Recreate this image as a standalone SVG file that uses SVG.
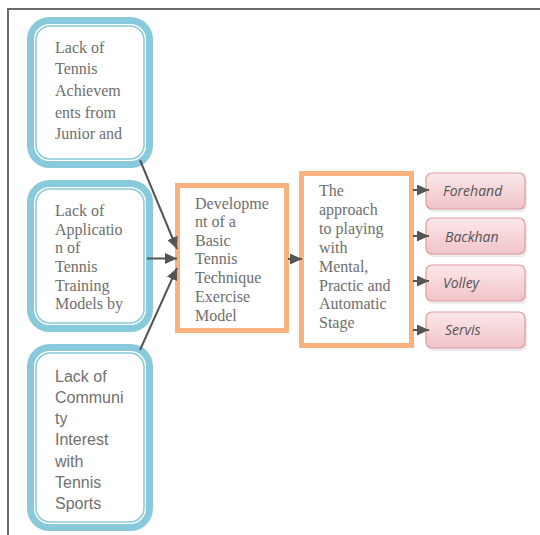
<svg xmlns="http://www.w3.org/2000/svg" width="540" height="535" viewBox="0 0 540 535">
<defs>
<linearGradient id="pink" x1="0" y1="0" x2="0" y2="1">
<stop offset="0" stop-color="#fbe8ea"/>
<stop offset="1" stop-color="#f1c3c8"/>
</linearGradient>
<marker id="arr" markerUnits="userSpaceOnUse" markerWidth="13" markerHeight="11" refX="12" refY="5.5" orient="auto">
<path d="M0,0 L12,5.5 L0,11 z" fill="#555"/>
</marker>
</defs>
<style>
.frame{stroke:#6b6b6b;stroke-width:2;fill:none}
.bo{fill:#fff;stroke:#88c9db;stroke-width:7}
.bi{fill:none;stroke:#88c9db;stroke-width:1.5}
.ob{fill:#fff;stroke:#f9b27d;stroke-width:5}
.pk{fill:url(#pink);stroke:#dc9ca2;stroke-width:1.2}
.sh{fill:#d8d8d8;opacity:0.5}
.serif{font-family:"Liberation Serif","Times New Roman",serif;font-size:16px;fill:#6e6e6e}
.sans{font-family:"Liberation Sans",Arial,sans-serif;font-size:16px;fill:#707070}
.it{font-family:"Open Sans","Liberation Sans",sans-serif;font-style:italic;font-size:14px;fill:#555}
.con{stroke:#555;stroke-width:2;fill:none;marker-end:url(#arr)}
</style>
<path class="frame" d="M8,535 L8,9 L540,9"/>

<g id="box1">
<rect class="bo" x="30.5" y="20.5" width="119" height="144" rx="19"/>
<rect class="bi" x="36" y="26" width="108" height="133" rx="14"/>
<text class="serif"><tspan x="55" y="53">Lack of</tspan><tspan x="55" y="74">Tennis</tspan><tspan x="55" y="96">Achievem</tspan><tspan x="55" y="117.5">ents from</tspan><tspan x="55" y="138.5">Junior and</tspan></text>
</g>
<g id="box2">
<rect class="bo" x="30.5" y="183.5" width="119" height="145" rx="19"/>
<rect class="bi" x="36" y="189" width="108" height="134" rx="14"/>
<text class="serif"><tspan x="55" y="216">Lack of</tspan><tspan x="55" y="234.5">Applicatio</tspan><tspan x="55" y="253">n of</tspan><tspan x="55" y="272">Tennis</tspan><tspan x="55" y="290.5">Training</tspan><tspan x="55" y="308.5">Models by</tspan></text>
</g>
<g id="box3">
<rect class="bo" x="30.5" y="347.5" width="119" height="180" rx="19"/>
<rect class="bi" x="36" y="353" width="108" height="169" rx="14"/>
<text class="sans"><tspan x="55" y="382">Lack of</tspan><tspan x="55" y="403">Communi</tspan><tspan x="55" y="424">ty</tspan><tspan x="55" y="445">Interest</tspan><tspan x="55" y="467">with</tspan><tspan x="55" y="488">Tennis</tspan><tspan x="55" y="509">Sports</tspan></text>
</g>

<g id="dev">
<rect class="ob" x="177.5" y="185.5" width="109" height="145"/>
<text class="serif"><tspan x="195" y="208.5">Developme</tspan><tspan x="195" y="227">nt of a</tspan><tspan x="195" y="245.5">Basic</tspan><tspan x="195" y="264">Tennis</tspan><tspan x="195" y="283">Technique</tspan><tspan x="195" y="302">Exercise</tspan><tspan x="195" y="320.5">Model</tspan></text>
</g>
<g id="approach">
<rect class="ob" x="301.5" y="173.5" width="110" height="172"/>
<text class="serif"><tspan x="319" y="196">The</tspan><tspan x="319" y="215">approach</tspan><tspan x="319" y="234">to playing</tspan><tspan x="319" y="252.5">with</tspan><tspan x="319" y="271.5">Mental,</tspan><tspan x="319" y="290.5">Practic and</tspan><tspan x="319" y="309">Automatic</tspan><tspan x="319" y="327.5">Stage</tspan></text>
</g>

<g id="forehand">
<rect class="sh" x="427" y="175" width="100" height="37" rx="6"/>
<rect class="pk" x="426" y="173" width="99" height="36" rx="6"/>
<text class="it" x="443" y="196">Forehand</text>
</g>
<g id="backhan">
<rect class="sh" x="427" y="220" width="100" height="37" rx="6"/>
<rect class="pk" x="426" y="218" width="99" height="36" rx="6"/>
<text class="it" x="445" y="242">Backhan</text>
</g>
<g id="volley">
<rect class="sh" x="427" y="267" width="100" height="37" rx="6"/>
<rect class="pk" x="426" y="265" width="99" height="36" rx="6"/>
<text class="it" x="443" y="288">Volley</text>
</g>
<g id="servis">
<rect class="sh" x="427" y="314" width="100" height="37" rx="6"/>
<rect class="pk" x="426" y="312" width="99" height="36" rx="6"/>
<text class="it" x="445" y="335">Servis</text>
</g>

<g id="connectors">
<path class="con" d="M140,160 L177,249"/>
<path class="con" d="M147,258.5 L177,258.5"/>
<path class="con" d="M140,350 L177,268"/>
<path class="con" d="M288,259 L302,259"/>
<path class="con" d="M413,190 L429,190"/>
<path class="con" d="M413,236 L429,236"/>
<path class="con" d="M413,281 L429,281"/>
<path class="con" d="M413,330 L429,330"/>
</g>
</svg>
